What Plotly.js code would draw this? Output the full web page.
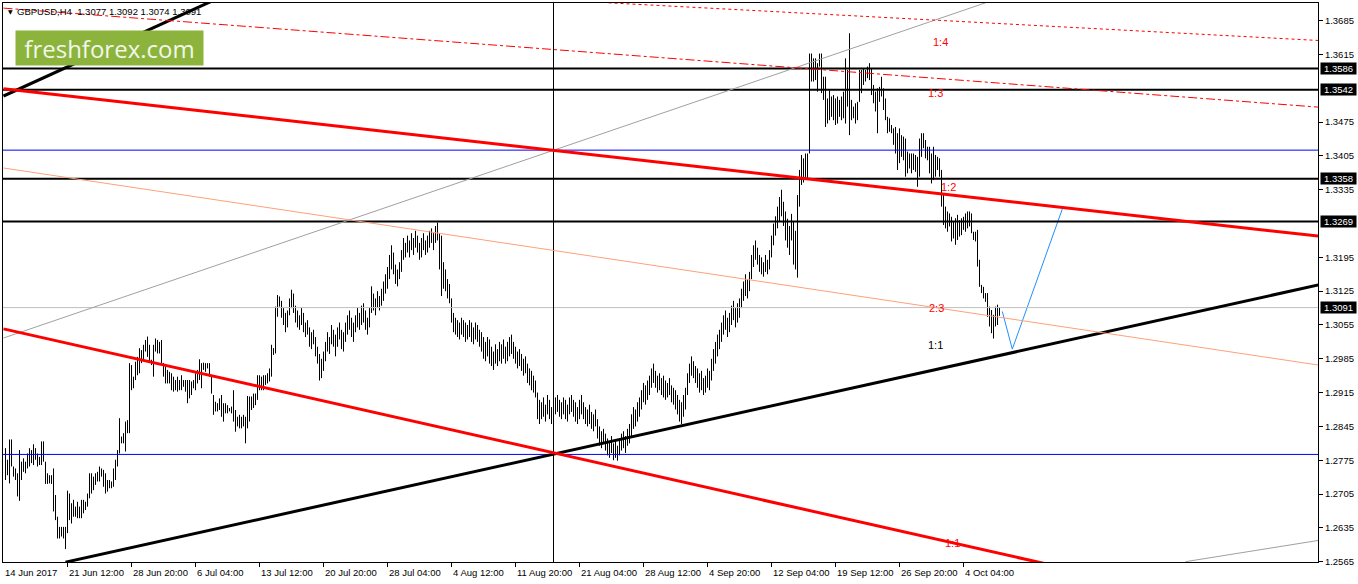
<!DOCTYPE html>
<html>
<head>
<meta charset="utf-8">
<script src="https://cdn.plot.ly/plotly-3.0.1.min.js"></script>
<style>html,body{margin:0;padding:0;background:#fff;}#chart{width:1358px;height:584px;}</style>
</head>
<body>
<div id="chart"></div>
<script>
// ---- data (GBPUSD H4, bar highs and lows, bar index 0 = first bar) ----
const barHigh = [1.2800,1.2776,1.2818,1.2818,1.2762,1.2758,1.2748,1.2796,1.2772,1.2779,
1.2772,1.2789,1.2800,1.2796,1.2808,1.2800,1.2789,1.2782,1.2814,1.2814,
1.2772,1.2748,1.2744,1.2744,1.2758,1.2703,1.2658,1.2637,1.2637,1.2637,
1.2637,1.2712,1.2706,1.2686,1.2693,1.2679,1.2689,1.2679,1.2693,1.2693,
1.2689,1.2706,1.2748,1.2748,1.2741,1.2748,1.2751,1.2762,1.2758,1.2755,
1.2748,1.2734,1.2734,1.2731,1.2758,1.2776,1.2796,1.2862,1.2824,1.2831,
1.2855,1.2858,1.2976,1.2972,1.2948,1.2979,1.2989,1.3007,1.3003,1.3014,
1.3024,1.3031,1.3014,1.2983,1.3014,1.3027,1.3024,1.3020,1.3024,1.2976,
1.2969,1.2962,1.2958,1.2955,1.2948,1.2941,1.2948,1.2941,1.2951,1.2941,
1.2941,1.2941,1.2941,1.2938,1.2941,1.2955,1.2962,1.2984,1.2976,1.2977,
1.2976,1.2976,1.2976,1.2951,1.2910,1.2896,1.2893,1.2903,1.2910,1.2893,
1.2893,1.2889,1.2883,1.2886,1.2920,1.2879,1.2865,1.2869,1.2865,1.2869,
1.2865,1.2908,1.2907,1.2907,1.2913,1.2913,1.2951,1.2951,1.2948,1.2951,
1.2951,1.2955,1.2965,1.3014,1.3007,1.3093,1.3117,1.3114,
1.3105,1.3090,1.3080,1.3085,1.3110,1.3128,1.3120,1.3095,1.3085,1.3075,
1.3090,1.3080,1.3060,1.3065,1.3050,1.3040,1.3045,1.3030,1.3010,1.2995,
1.2985,1.3000,1.3020,1.3040,1.3030,1.3055,1.3045,1.3035,1.3050,1.3060,
1.3045,1.3040,1.3060,1.3075,1.3085,1.3070,1.3060,1.3075,1.3090,1.3080,
1.3095,1.3100,1.3085,1.3070,1.3090,1.3135,1.3120,1.3110,1.3125,1.3115,
1.3130,1.3145,1.3160,1.3175,1.3200,1.3220,1.3205,1.3180,1.3170,1.3185,
1.3210,1.3235,1.3225,1.3240,1.3230,1.3245,1.3235,1.3250,1.3240,1.3225,
1.3235,1.3245,1.3230,1.3240,1.3250,1.3255,1.3245,1.3260,1.3267,1.3245,
1.3240,1.3185,1.3170,1.3150,1.3140,1.3110,1.3080,1.3070,1.3065,1.3060,
1.3070,1.3065,1.3060,1.3055,1.3065,1.3060,1.3050,1.3060,1.3055,1.3045,
1.3040,1.3030,1.3020,1.3030,1.3025,1.3010,1.3000,1.3015,1.3005,1.3020,
1.3015,1.3025,1.3010,1.3020,1.3030,1.3035,1.3020,1.3010,1.3000,1.3005,
1.2995,1.2985,1.2990,1.2975,1.2965,1.2960,1.2950,1.2940,1.2915,1.2900,
1.2895,1.2905,1.2890,1.2910,1.2900,1.2885,1.2895,1.2905,1.2910,1.2900,
1.2895,1.2905,1.2900,1.2890,1.2905,1.2910,1.2900,1.2895,1.2885,1.2900,
1.2910,1.2895,1.2885,1.2880,1.2890,1.2875,1.2870,1.2880,1.2860,1.2845,
1.2835,1.2840,1.2830,1.2820,1.2815,1.2825,1.2810,1.2815,1.2805,1.2820,
1.2830,1.2835,1.2825,1.2840,1.2850,1.2870,1.2885,1.2880,1.2895,1.2905,
1.2920,1.2935,1.2930,1.2940,1.2950,1.2965,1.2975,1.2960,1.2950,1.2955,
1.2945,1.2950,1.2940,1.2935,1.2945,1.2930,1.2925,1.2920,1.2910,1.2900,
1.2895,1.2910,1.2925,1.2955,1.2975,1.2990,1.2980,1.2970,1.2965,1.2955,
1.2960,1.2945,1.2950,1.2965,1.2960,1.2985,1.3005,1.3020,1.3035,1.3045,
1.3060,1.3075,1.3085,1.3070,1.3080,1.3095,1.3105,1.3090,1.3100,1.3110,
1.3130,1.3145,1.3160,1.3150,1.3165,1.3200,1.3220,1.3230,1.3215,1.3200,
1.3195,1.3185,1.3200,1.3190,1.3210,1.3240,1.3265,1.3280,1.3300,1.3320,
1.3335,1.3310,1.3290,1.3275,1.3260,1.3285,1.3270,1.3250,1.3324,1.3376,
1.3407,1.3400,1.3410,1.3410,1.3617,1.3617,1.3607,1.3607,1.3597,1.3617,
1.3617,1.3569,1.3569,1.3524,1.3541,1.3528,1.3531,1.3524,1.3528,1.3521,
1.3528,1.3538,1.3607,1.3583,1.3659,1.3521,1.3507,1.3514,1.3517,1.3583,
1.3583,1.3586,1.3583,1.3590,1.3597,1.3586,1.3552,1.3538,1.3545,1.3548,
1.3569,1.3545,1.3524,1.3486,1.3483,1.3469,1.3462,1.3465,1.3452,1.3462,
1.3448,1.3445,1.3441,1.3414,1.3410,1.3410,1.3410,1.3407,1.3403,1.3441,
1.3452,1.3452,1.3438,1.3424,1.3424,1.3410,1.3424,1.3407,1.3403,1.3400,
1.3376,1.3328,1.3300,1.3290,1.3286,1.3279,1.3269,1.3276,1.3283,1.3272,
1.3276,1.3279,1.3286,1.3290,1.3290,1.3286,1.3248,1.3248,1.3252,1.3190,
1.3138,1.3134,1.3121,1.3121,1.3093,1.3086,1.3076,1.3093,1.3097,1.3092];
const barLow = [1.2734,1.2744,1.2727,1.2762,1.2741,1.2734,1.2700,1.2691,1.2734,1.2751,
1.2748,1.2758,1.2762,1.2769,1.2765,1.2776,1.2762,1.2765,1.2765,1.2772,
1.2726,1.2726,1.2727,1.2726,1.2669,1.2651,1.2613,1.2613,1.2617,1.2613,
1.2591,1.2624,1.2651,1.2644,1.2658,1.2658,1.2655,1.2655,1.2655,1.2665,
1.2672,1.2679,1.2696,1.2706,1.2713,1.2724,1.2731,1.2731,1.2741,1.2720,
1.2706,1.2710,1.2717,1.2717,1.2720,1.2734,1.2762,1.2789,1.2810,1.2810,
1.2793,1.2831,1.2831,1.2920,1.2924,1.2941,1.2951,1.2955,1.2976,1.2983,
1.3000,1.2989,1.2979,1.2972,1.2948,1.3000,1.2996,1.2996,1.2972,1.2948,
1.2934,1.2934,1.2934,1.2920,1.2917,1.2920,1.2917,1.2920,1.2920,1.2927,
1.2917,1.2893,1.2903,1.2910,1.2924,1.2920,1.2934,1.2941,1.2924,1.2962,
1.2958,1.2965,1.2948,1.2913,1.2869,1.2876,1.2876,1.2879,1.2865,1.2855,
1.2872,1.2872,1.2876,1.2872,1.2855,1.2834,1.2845,1.2841,1.2841,1.2845,
1.2810,1.2841,1.2855,1.2879,1.2883,1.2889,1.2900,1.2920,1.2920,1.2920,
1.2931,1.2934,1.2938,1.2948,1.2993,1.2996,1.3072,1.3093,
1.3070,1.3055,1.3040,1.3050,1.3075,1.3090,1.3080,1.3060,1.3050,1.3045,
1.3055,1.3040,1.3030,1.3035,1.3010,1.3005,1.3015,1.2990,1.2975,1.2940,
1.2945,1.2960,1.2980,1.3000,1.2995,1.3015,1.3010,1.2990,1.3010,1.3025,
1.3005,1.3000,1.3020,1.3035,1.3045,1.3030,1.3020,1.3040,1.3050,1.3045,
1.3055,1.3060,1.3045,1.3035,1.3050,1.3080,1.3085,1.3075,1.3090,1.3085,
1.3095,1.3105,1.3120,1.3130,1.3150,1.3170,1.3160,1.3140,1.3135,1.3150,
1.3165,1.3190,1.3195,1.3205,1.3195,1.3210,1.3200,1.3215,1.3205,1.3190,
1.3195,1.3210,1.3200,1.3205,1.3215,1.3225,1.3210,1.3225,1.3230,1.3170,
1.3115,1.3130,1.3125,1.3110,1.3100,1.3060,1.3040,1.3035,1.3030,1.3025,
1.3035,1.3030,1.3020,1.3025,1.3030,1.3020,1.3015,1.3025,1.3020,1.3010,
1.3000,1.2985,1.2980,1.2990,1.2975,1.2970,1.2962,1.2975,1.2970,1.2980,
1.2975,1.2985,1.2975,1.2980,1.2990,1.2995,1.2985,1.2975,1.2965,1.2970,
1.2960,1.2950,1.2955,1.2935,1.2930,1.2920,1.2915,1.2905,1.2860,1.2850,
1.2860,1.2865,1.2855,1.2870,1.2860,1.2850,1.2860,1.2870,1.2875,1.2865,
1.2860,1.2870,1.2860,1.2855,1.2870,1.2875,1.2865,1.2855,1.2850,1.2860,
1.2870,1.2860,1.2850,1.2845,1.2850,1.2840,1.2835,1.2845,1.2820,1.2805,
1.2800,1.2810,1.2795,1.2785,1.2780,1.2790,1.2775,1.2780,1.2774,1.2785,
1.2795,1.2800,1.2790,1.2805,1.2810,1.2825,1.2840,1.2845,1.2855,1.2865,
1.2880,1.2895,1.2890,1.2900,1.2910,1.2925,1.2935,1.2925,1.2915,1.2920,
1.2910,1.2905,1.2900,1.2905,1.2910,1.2895,1.2890,1.2880,1.2870,1.2855,
1.2850,1.2865,1.2880,1.2910,1.2935,1.2950,1.2945,1.2935,1.2925,1.2915,
1.2920,1.2910,1.2915,1.2925,1.2920,1.2940,1.2960,1.2975,1.2990,1.3005,
1.3020,1.3035,1.3045,1.3030,1.3040,1.3055,1.3065,1.3050,1.3060,1.3070,
1.3090,1.3105,1.3115,1.3110,1.3125,1.3150,1.3175,1.3190,1.3180,1.3165,
1.3160,1.3155,1.3165,1.3160,1.3170,1.3195,1.3220,1.3240,1.3255,1.3270,
1.3280,1.3260,1.3230,1.3215,1.3200,1.3230,1.3180,1.3170,1.3153,1.3300,
1.3345,1.3350,1.3355,1.3355,1.3410,1.3559,1.3559,1.3562,1.3538,1.3590,
1.3535,1.3521,1.3465,1.3472,1.3479,1.3486,1.3479,1.3469,1.3472,1.3486,
1.3479,1.3483,1.3472,1.3507,1.3448,1.3479,1.3483,1.3472,1.3479,1.3517,
1.3535,1.3552,1.3559,1.3566,1.3562,1.3531,1.3514,1.3497,1.3452,1.3517,
1.3528,1.3500,1.3479,1.3452,1.3455,1.3452,1.3428,1.3410,1.3376,1.3390,
1.3403,1.3396,1.3362,1.3369,1.3379,1.3369,1.3376,1.3372,1.3341,1.3362,
1.3403,1.3421,1.3400,1.3396,1.3369,1.3348,1.3355,1.3362,1.3376,1.3362,
1.3300,1.3262,1.3255,1.3248,1.3259,1.3228,1.3234,1.3221,1.3231,1.3238,
1.3241,1.3252,1.3248,1.3255,1.3259,1.3245,1.3231,1.3228,1.3176,1.3134,
1.3121,1.3110,1.3103,1.3072,1.3052,1.3038,1.3027,1.3052,1.3055,1.3074];

const xTickBars   = [31,63,95,127,159,191,223,255,287,319,351,383,415,447,479];
const xTickLabels = ['21 Jun 12:00','28 Jun 20:00','6 Jul 04:00','13 Jul 12:00','20 Jul 20:00',
  '28 Jul 04:00','4 Aug 12:00','11 Aug 20:00','21 Aug 04:00','28 Aug 12:00','4 Sep 20:00',
  '12 Sep 04:00','19 Sep 12:00','26 Sep 20:00','4 Oct 04:00'];
const firstLabel = '14 Jun 2017';
const yTickVals = [1.2565,1.2635,1.2705,1.2775,1.2845,1.2915,1.2985,1.3055,1.3125,1.3195,
  1.3335,1.3405,1.3475,1.3615,1.3685];
const levelLines = [1.3586,1.3542,1.3358,1.3269];
const blueLevels = [1.3417,1.2787];
const lastPrice = 1.3091;
const header = 'GBPUSD,H4  1.3077 1.3092 1.3074 1.3091';
const forecastX = [498.4,503.4,528.4];
const forecastY = [1.3083,1.3005,1.3295];
const fibLabels = [
  {t:'1:4', x:467.5, y:1.3641, c:'#ff0000'},
  {t:'1:3', x:465.0, y:1.3535, c:'#ff0000'},
  {t:'1:2', x:471.7, y:1.3341, c:'#ff0000'},
  {t:'2:3', x:465.5, y:1.3090, c:'#ff0000'},
  {t:'1:1', x:465.0, y:1.3014, c:'#000000'},
  {t:'1:1', x:473.3, y:1.2603, c:'#ff0000'}
];
// drawn trend lines (bar index, price)
const trendLines = [
  {x0:30,   y0:1.2564, x1:656.5, y1:1.3138, color:'#000000', width:3, dash:'solid'},
  {x0:-1,   y0:1.3529, x1:122.5, y1:1.3762, color:'#000000', width:3, dash:'solid'},
  {x0:-1,   y0:1.3028, x1:490,   y1:1.3722, color:'#a0a0a0', width:1, dash:'solid'},
  {x0:590,  y0:1.2565, x1:656.5, y1:1.2609, color:'#a0a0a0', width:1, dash:'solid'},
  {x0:-1,   y0:1.3544, x1:656.5, y1:1.3239, color:'#ff0000', width:3, dash:'solid'},
  {x0:-1,   y0:1.3047, x1:547.5, y1:1.2535, color:'#ff0000', width:3, dash:'solid'},
  {x0:-1,   y0:1.3380, x1:656.5, y1:1.2972, color:'#ffa07a', width:1, dash:'solid'},
  {x0:-1,   y0:1.3711, x1:656.5, y1:1.3506, color:'#ff0000', width:1, dash:'dashdot'},
  {x0:301.5,y0:1.3722, x1:656.5, y1:1.3644, color:'#ff0000', width:1, dash:'dot'}
];
const vLineBar = 274;

// ---- build ----
const segX = [], segY = [];
for (let i = 0; i < barHigh.length; i++) {
  segX.push(i, i, null);
  segY.push(barLow[i], barHigh[i], null);
}
const font = 'Liberation Sans, Arial, sans-serif';
const shapes = [];
levelLines.forEach(v => shapes.push({type:'line', xref:'paper', x0:0, x1:1, yref:'y', y0:v, y1:v, line:{color:'#000', width:2}}));
blueLevels.forEach(v => shapes.push({type:'line', xref:'paper', x0:0, x1:1, yref:'y', y0:v, y1:v, line:{color:'#0000ff', width:1}}));
shapes.push({type:'line', xref:'paper', x0:0, x1:1, yref:'y', y0:lastPrice, y1:lastPrice, line:{color:'#c0c0c0', width:1}});
shapes.push({type:'line', xref:'x', x0:vLineBar, x1:vLineBar, yref:'paper', y0:0, y1:1, line:{color:'#000', width:1}});
trendLines.forEach(l => shapes.push({type:'line', xref:'x', yref:'y', x0:l.x0, y0:l.y0, x1:l.x1, y1:l.y1, line:{color:l.color, width:l.width, dash:l.dash}}));

const annotations = [];
levelLines.concat([lastPrice]).forEach(v => annotations.push({
  xref:'paper', x:1, xanchor:'left', xshift:2, yref:'y', y:v, yanchor:'middle',
  text:v.toFixed(4), showarrow:false, bgcolor:'#000', borderpad:1, width:33, height:9,
  font:{family:font, size:9.5, color:'#fff'}
}));
annotations.push({xref:'paper', x:0, xanchor:'left', xshift:0, yref:'paper', y:0, yanchor:'top', yshift:-3,
  text:firstLabel, showarrow:false, font:{family:font, size:9.5, color:'#000'}});
xTickBars.forEach((b, k) => annotations.push({xref:'x', x:b, xanchor:'left', xshift:-1, yref:'paper', y:0, yanchor:'top', yshift:-3,
  text:xTickLabels[k], showarrow:false, font:{family:font, size:9.5, color:'#000'}}));
annotations.push({xref:'paper', x:0, xanchor:'left', xshift:12, yref:'paper', y:1, yanchor:'middle', yshift:-8,
  text:header, showarrow:false, font:{family:font, size:9.5, color:'#000'}});
annotations.push({xref:'paper', x:0, xanchor:'center', xshift:7, yref:'paper', y:1, yanchor:'middle', yshift:-8,
  text:'▼', showarrow:false, font:{family:'DejaVu Sans', size:6, color:'#000'}});
annotations.push({xref:'paper', x:0, xanchor:'left', xshift:12, yref:'paper', y:1, yanchor:'top', yshift:-27,
  text:'freshforex.com', showarrow:false, bgcolor:'#8cb43c', borderpad:0, width:187, height:34,
  font:{family:'Open Sans, Noto Sans, sans-serif', size:24, color:'#f2f6ea'}});
fibLabels.forEach(f => annotations.push({xref:'x', x:f.x, yref:'y', y:f.y, text:f.t, showarrow:false,
  font:{family:font, size:11, color:f.c}}));

const traces = [
  {type:'scatter', mode:'lines', x:segX, y:segY, line:{color:'#000', width:1}, hoverinfo:'skip', connectgaps:false},
  {type:'scatter', mode:'lines', x:forecastX, y:forecastY, line:{color:'#1e90ff', width:1}, hoverinfo:'skip'}
];
const layout = {
  width:1358, height:584, margin:{l:3, r:40, t:3, b:22},
  paper_bgcolor:'#fff', plot_bgcolor:'#fff', showlegend:false, hovermode:false,
  xaxis:{range:[-1.25, 656.25], showgrid:false, zeroline:false, showline:true, mirror:true, linecolor:'#000', linewidth:1,
    tickmode:'array', tickvals:xTickBars, ticktext:xTickBars.map(() => ''), ticks:'outside', ticklen:4, tickcolor:'#000'},
  yaxis:{range:[1.25643, 1.37216], side:'right', showgrid:false, zeroline:false, showline:true, mirror:true, linecolor:'#000', linewidth:1,
    tickmode:'array', tickvals:yTickVals, ticktext:yTickVals.map(v => v.toFixed(4)), ticks:'outside', ticklen:4, tickcolor:'#000',
    tickfont:{family:font, size:9.5, color:'#000'}},
  shapes:shapes, annotations:annotations
};
Plotly.newPlot('chart', traces, layout, {staticPlot:true, displayModeBar:false});
</script>
</body>
</html>
